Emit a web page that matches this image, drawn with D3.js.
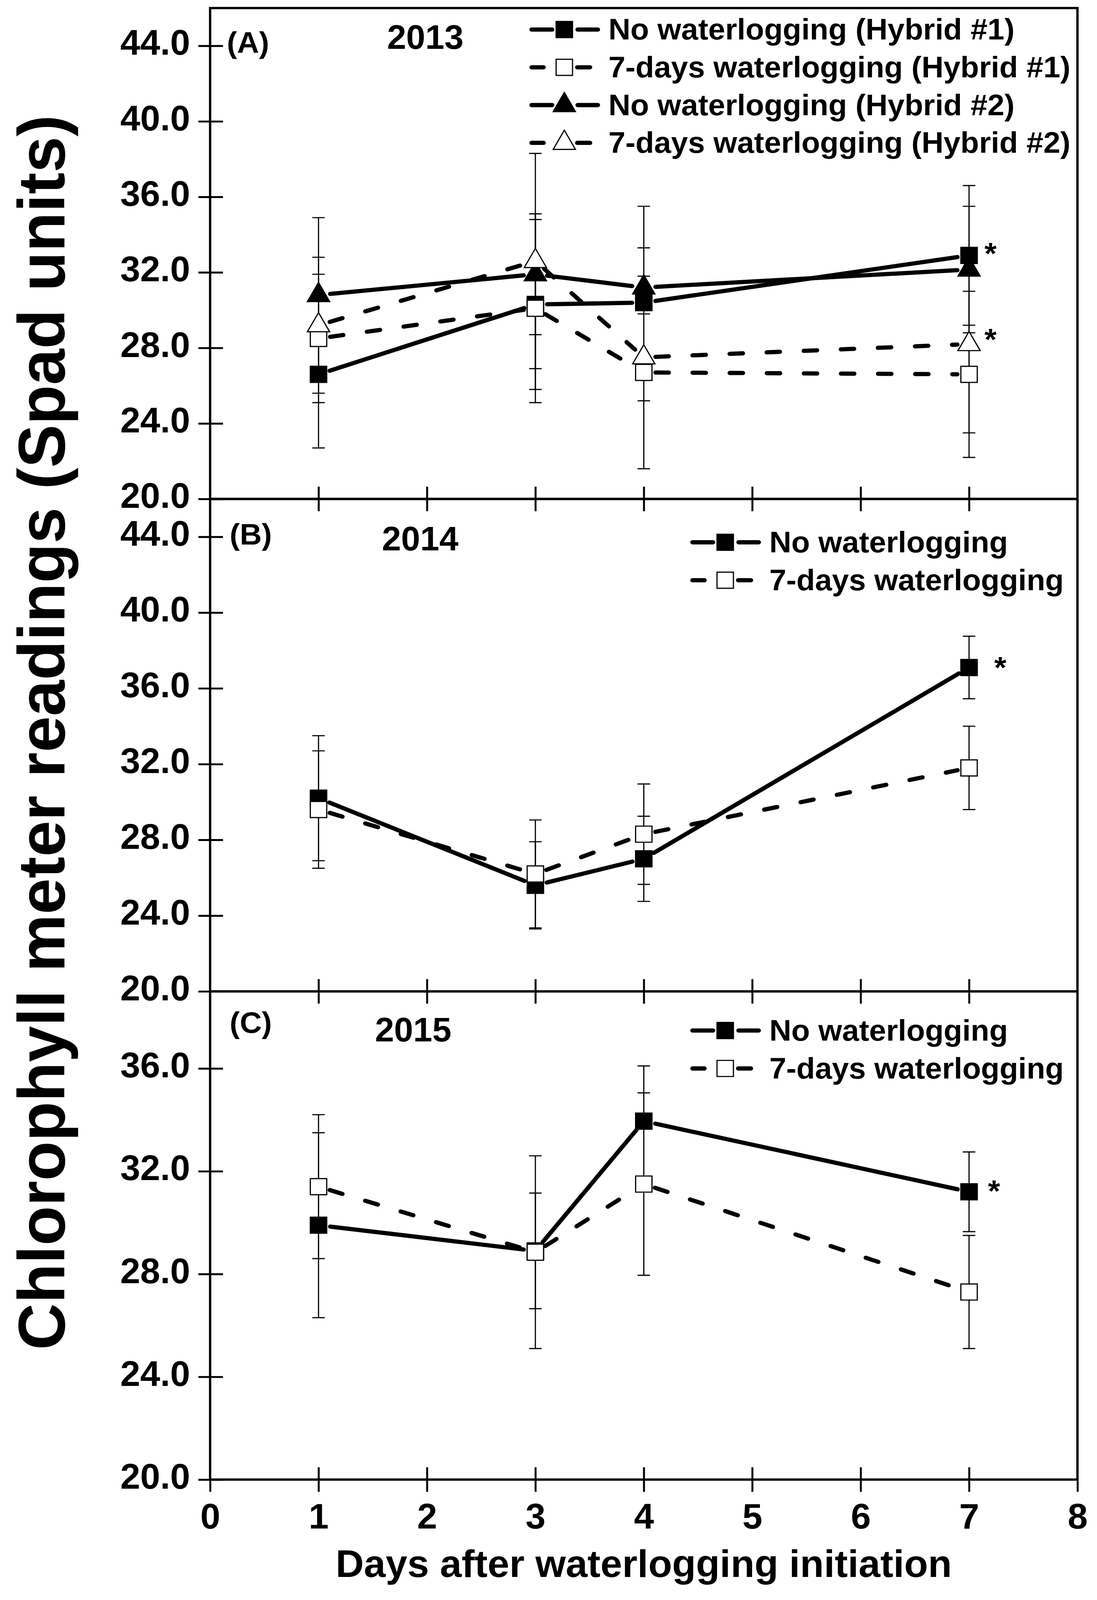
<!DOCTYPE html>
<html>
<head>
<meta charset="utf-8">
<script src="https://cdn.jsdelivr.net/npm/d3@7"></script>
<style>
html, body { margin: 0; padding: 0; background: #fff; overflow: hidden; width: 100%; height: 100%; }
svg { display: block; }
text { font-family: "Liberation Sans", Arial, sans-serif; fill: #000; }
</style>
</head>
<body>
<script>
// sampling days
var days = [1, 3, 4, 7];
var xTickValues = [0, 1, 2, 3, 4, 5, 6, 7, 8];
var yTicksAB = [20, 24, 28, 32, 36, 40, 44];
var yTicksC = [20, 24, 28, 32, 36];

// (A) 2013, two hybrids
var a_noWL_h1 = [26.6, 30.3, 30.4, 32.9];
var a_noWL_h1_err = [3.9, 4.5, 2.9, 3.7];
var a_WL_h1 = [28.5, 30.1, 26.7, 26.6];
var a_WL_h1_err = [3.4, 5.0, 5.1, 4.4];
var a_noWL_h2 = [30.8, 31.9, 31.2, 32.15];
var a_noWL_h2_err = [4.1, 3.2, 4.3, 3.35];
var a_WL_h2 = [29.2, 32.6, 27.5, 28.2];
var a_WL_h2_err = [3.6, 5.7, 2.3, 4.7];

// (B) 2014
var b_noWL = [30.2, 25.6, 27.0, 37.1];
var b_noWL_err = [3.3, 2.3, 2.25, 1.65];
var b_WL = [29.6, 26.2, 28.3, 31.8];
var b_WL_err = [3.1, 2.85, 2.65, 2.2];

// (C) 2015
var c_noWL = [29.9, 28.9, 33.95, 31.2];
var c_noWL_err = [3.6, 2.25, 2.15, 1.55];
var c_WL = [31.4, 28.85, 31.5, 27.3];
var c_WL_err = [2.8, 3.75, 3.55, 2.2];

var W = 2809, H = 4172;
var left = 538, right = 2759;

// drawn in a 2809x4172 frame, stretched to whatever the viewport really is
var svg = d3.select("body").append("svg")
  .attr("viewBox", "0 0 " + W + " " + H)
  .attr("preserveAspectRatio", "none")
  .style("width", "100vw").style("height", "100vh")
  .style("background", "#fff");

var x = d3.scaleLinear().domain([0, 8]).range([left, right]);

var panels = [
  { top: 21, bottom: 1301, domain: [20, 46], ticks: yTicksAB,
    letter: "(A)", letterPos: [581, 138],
    year: "2013", yearPos: [1089, 127],
    legX: 1355, legY: 77, legStep: 98.5,
    series: [
      { label: "No waterlogging (Hybrid #1)", v: a_noWL_h1, e: a_noWL_h1_err, shape: "square", filled: true, dashed: false, star: [55, -23] },
      { label: "7-days waterlogging (Hybrid #1)", v: a_WL_h1, e: a_WL_h1_err, shape: "square", filled: false, dashed: true },
      { label: "No waterlogging (Hybrid #2)", v: a_noWL_h2, e: a_noWL_h2_err, shape: "triangle", filled: true, dashed: false },
      { label: "7-days waterlogging (Hybrid #2)", v: a_WL_h2, e: a_WL_h2_err, shape: "triangle", filled: false, dashed: true, star: [55, -31] }
    ] },
  { top: 1301, bottom: 2585, domain: [20, 46], ticks: yTicksAB,
    letter: "(B)", letterPos: [588, 1420],
    year: "2014", yearPos: [1076, 1435],
    legX: 1767, legY: 1414, legStep: 99,
    series: [
      { label: "No waterlogging", v: b_noWL, e: b_noWL_err, shape: "square", filled: true, dashed: false, star: [80, -18] },
      { label: "7-days waterlogging", v: b_WL, e: b_WL_err, shape: "square", filled: false, dashed: true }
    ] },
  { top: 2585, bottom: 3858, domain: [20, 39], ticks: yTicksC,
    letter: "(C)", letterPos: [588, 2693],
    year: "2015", yearPos: [1058, 2715],
    legX: 1767, legY: 2687, legStep: 99,
    series: [
      { label: "No waterlogging", v: c_noWL, e: c_noWL_err, shape: "square", filled: true, dashed: false, star: [64, -21] },
      { label: "7-days waterlogging", v: c_WL, e: c_WL_err, shape: "square", filled: false, dashed: true }
    ] }
];

var squarePath = d3.symbol(d3.symbolSquare, 42 * 42)();
var trianglePath = "M0,-33L28.5,17L-28.5,17Z";

function drawMarker(g, shape, filled, cx, cy) {
  g.append("path")
    .attr("d", shape === "square" ? squarePath : trianglePath)
    .attr("transform", "translate(" + cx + "," + cy + ")")
    .attr("fill", filled ? "#000" : "#fff")
    .attr("stroke", "#000")
    .attr("stroke-width", 3);
}

function styleLine(sel, dashed) {
  sel.attr("stroke", "#000")
    .attr("stroke-width", 11)
    .attr("stroke-linecap", "round")
    .attr("fill", "none");
  if (dashed) sel.attr("stroke-dasharray", "34,61");
}

panels.forEach(function(p, pi) {
  var y = d3.scaleLinear().domain(p.domain).range([p.bottom, p.top]);
  var g = svg.append("g");

  // y axis
  var yAxis = d3.axisLeft(y).tickValues(p.ticks)
    .tickFormat(d3.format(".1f"))
    .tickSize(30).tickSizeOuter(0).tickPadding(21);
  var ya = g.append("g").attr("transform", "translate(" + left + ",0)").call(yAxis);
  ya.select(".domain").remove();
  ya.selectAll(".tick line").attr("x1", 33).attr("stroke-width", 5);
  ya.selectAll(".tick text")
    .attr("dy", "0.25em")
    .style("font-size", "92px").style("font-weight", "bold")
    .style("font-family", "'Liberation Sans', Arial, sans-serif");

  // x axis (ticks on every panel, labels only on the bottom)
  var xAxis = d3.axisBottom(x).tickValues(xTickValues)
    .tickSize(32).tickSizeOuter(0).tickPadding(30)
    .tickFormat(pi === panels.length - 1 ? d3.format("d") : function() { return ""; });
  var xa = g.append("g").attr("transform", "translate(0," + p.bottom + ")").call(xAxis);
  xa.select(".domain").remove();
  xa.selectAll(".tick line").attr("y1", -32).attr("stroke-width", 5);
  xa.selectAll(".tick text")
    .style("font-size", "92px").style("font-weight", "bold")
    .style("font-family", "'Liberation Sans', Arial, sans-serif");

  // frame
  g.append("rect")
    .attr("x", left).attr("y", p.top)
    .attr("width", right - left).attr("height", p.bottom - p.top)
    .attr("fill", "none").attr("stroke", "#000").attr("stroke-width", 6);

  // panel letter and year
  g.append("text").attr("x", p.letterPos[0]).attr("y", p.letterPos[1])
    .style("font-size", "78px").style("font-weight", "bold")
    .text(p.letter);
  g.append("text").attr("x", p.yearPos[0]).attr("y", p.yearPos[1])
    .attr("text-anchor", "middle")
    .style("font-size", "88px").style("font-weight", "bold")
    .text(p.year);

  // error bars
  p.series.forEach(function(s) {
    s.v.forEach(function(v, i) {
      var cx = x(days[i]), y1 = y(v - s.e[i]), y2 = y(v + s.e[i]);
      g.append("line").attr("x1", cx).attr("x2", cx).attr("y1", y1).attr("y2", y2)
        .attr("stroke", "#000").attr("stroke-width", 3);
      [y1, y2].forEach(function(yy) {
        g.append("line").attr("x1", cx - 16).attr("x2", cx + 16).attr("y1", yy).attr("y2", yy)
          .attr("stroke", "#000").attr("stroke-width", 3);
      });
    });
  });

  // connecting lines, with a small gap round each marker
  var gap = 30;
  p.series.forEach(function(s) {
    for (var i = 0; i < s.v.length - 1; i++) {
      var x0 = x(days[i]), y0 = y(s.v[i]), x1 = x(days[i + 1]), y1 = y(s.v[i + 1]);
      var dx = x1 - x0, dy = y1 - y0, len = Math.sqrt(dx * dx + dy * dy);
      if (len <= 2 * gap) continue;
      var ux = dx / len, uy = dy / len;
      var seg = g.append("line")
        .attr("x1", x0 + ux * gap).attr("y1", y0 + uy * gap)
        .attr("x2", x1 - ux * gap).attr("y2", y1 - uy * gap);
      styleLine(seg, s.dashed);
    }
  });

  // markers: filled first, open on top
  var ordered = p.series.filter(function(s) { return s.filled; })
    .concat(p.series.filter(function(s) { return !s.filled; }));
  ordered.forEach(function(s) {
    s.v.forEach(function(v, i) {
      drawMarker(g, s.shape, s.filled, x(days[i]), y(v));
    });
  });

  // significance asterisks at the last day
  p.series.forEach(function(s) {
    if (!s.star) return;
    var n = s.v.length - 1;
    g.append("text")
      .attr("x", x(days[n]) + s.star[0])
      .attr("y", y(s.v[n]) + s.star[1] + 46)
      .attr("text-anchor", "middle")
      .style("font-size", "80px").style("font-weight", "bold")
      .text("*");
  });

  // legend
  p.series.forEach(function(s, k) {
    var ly = p.legY + k * p.legStep;
    var lx = p.legX;
    var mx = lx + 90;
    var segs = s.dashed ? [[lx + 6, lx + 37], [lx + 123, lx + 156]] : [[lx + 6, lx + 59], [lx + 124, lx + 176]];
    segs.forEach(function(sg) {
      var l = g.append("line").attr("x1", sg[0]).attr("x2", sg[1]).attr("y1", ly).attr("y2", ly);
      styleLine(l, false);
    });
    drawMarker(g, s.shape, s.filled, mx, ly);
    g.append("text").attr("x", lx + 203).attr("y", ly + 26)
      .style("font-size", "78px").style("font-weight", "bold")
      .text(s.label);
  });
});

// axis titles
svg.append("text")
  .attr("transform", "translate(165,1910) rotate(-90)")
  .attr("text-anchor", "middle")
  .style("font-size", "169px").style("font-weight", "bold")
  .text("Chlorophyll meter readings (Spad units)");

svg.append("text")
  .attr("x", (left + right) / 2).attr("y", 4112)
  .attr("text-anchor", "middle")
  .style("font-size", "100px").style("font-weight", "bold")
  .text("Days after waterlogging initiation");
</script>
</body>
</html>
